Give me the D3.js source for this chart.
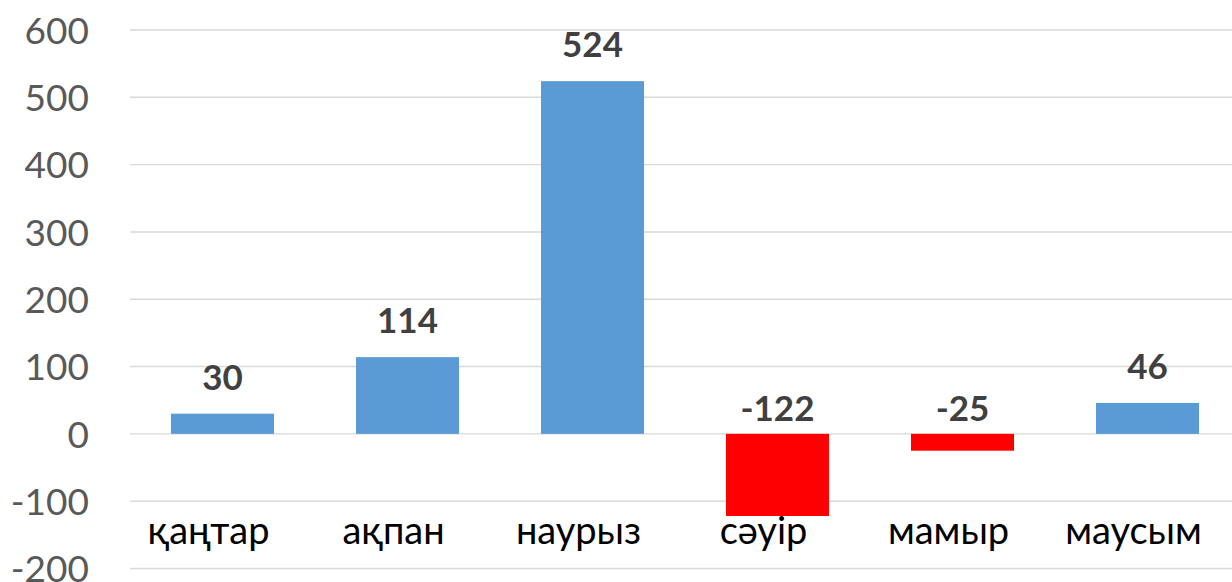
<!DOCTYPE html>
<html>
<head>
<meta charset="utf-8">
<script src="https://cdn.jsdelivr.net/npm/d3@7"></script>
<style>
  body { margin: 0; background: #fff; }
  svg { display: block; }
</style>
</head>
<body>
<script>
// months and monthly values
const months = ["қаңтар", "ақпан", "наурыз", "сәуір", "мамыр", "маусым"];
const values = [30, 114, 524, -122, -25, 46];
const yTicks = [-200, -100, 0, 100, 200, 300, 400, 500, 600];

const width = 1232, height = 582;

const svg = d3.select("body").append("svg")
  .attr("width", width)
  .attr("height", height);

const x = d3.scaleBand()
  .domain(months)
  .range([130, 1240])
  .paddingInner(0.443)
  .paddingOuter(0.2215);

const y = d3.scaleLinear()
  .domain([-200, 600])
  .range([568.5, 30]);

// gridlines
svg.append("g")
  .selectAll("line")
  .data(yTicks)
  .enter().append("line")
  .attr("x1", 130)
  .attr("x2", width)
  .attr("y1", d => y(d))
  .attr("y2", d => y(d))
  .attr("stroke", "#d9d9d9")
  .attr("stroke-width", 1.4);

// y axis labels (plain hyphen for negatives, like the original)
const yAxis = svg.append("g")
  .attr("transform", "translate(104,0)")
  .call(d3.axisLeft(y).tickValues(yTicks).tickFormat(d => String(d)).tickSize(0).tickPadding(15));
yAxis.select(".domain").remove();
yAxis.selectAll("text")
  .attr("font-family", "Lato, sans-serif")
  .attr("font-size", 37)
  .attr("fill", "#595959")
  .attr("dy", "0.36em");

// bars
svg.append("g")
  .selectAll("rect")
  .data(values)
  .enter().append("rect")
  .attr("x", (d, i) => x(months[i]))
  .attr("width", x.bandwidth())
  .attr("y", d => y(Math.max(d, 0)))
  .attr("height", d => Math.abs(y(d) - y(0)))
  .attr("fill", d => d < 0 ? "#ff0000" : "#5b9bd5");

// value labels
svg.append("g")
  .selectAll("text")
  .data(values)
  .enter().append("text")
  .attr("x", (d, i) => x(months[i]) + x.bandwidth() / 2)
  .attr("y", d => d < 0 ? y(0) - 13 : y(d) - 24)
  .attr("text-anchor", "middle")
  .attr("font-family", "Lato, sans-serif")
  .attr("font-weight", "bold")
  .attr("font-size", 35)
  .attr("fill", "#404040")
  .text(d => d);

// month labels
svg.append("g")
  .selectAll("text")
  .data(months)
  .enter().append("text")
  .attr("x", d => x(d) + x.bandwidth() / 2 - 14)
  .attr("y", 544)
  .attr("text-anchor", "middle")
  .attr("font-family", "Lato, sans-serif")
  .attr("font-size", 38)
  .attr("fill", "#000")
  .text(d => d);
</script>
</body>
</html>
